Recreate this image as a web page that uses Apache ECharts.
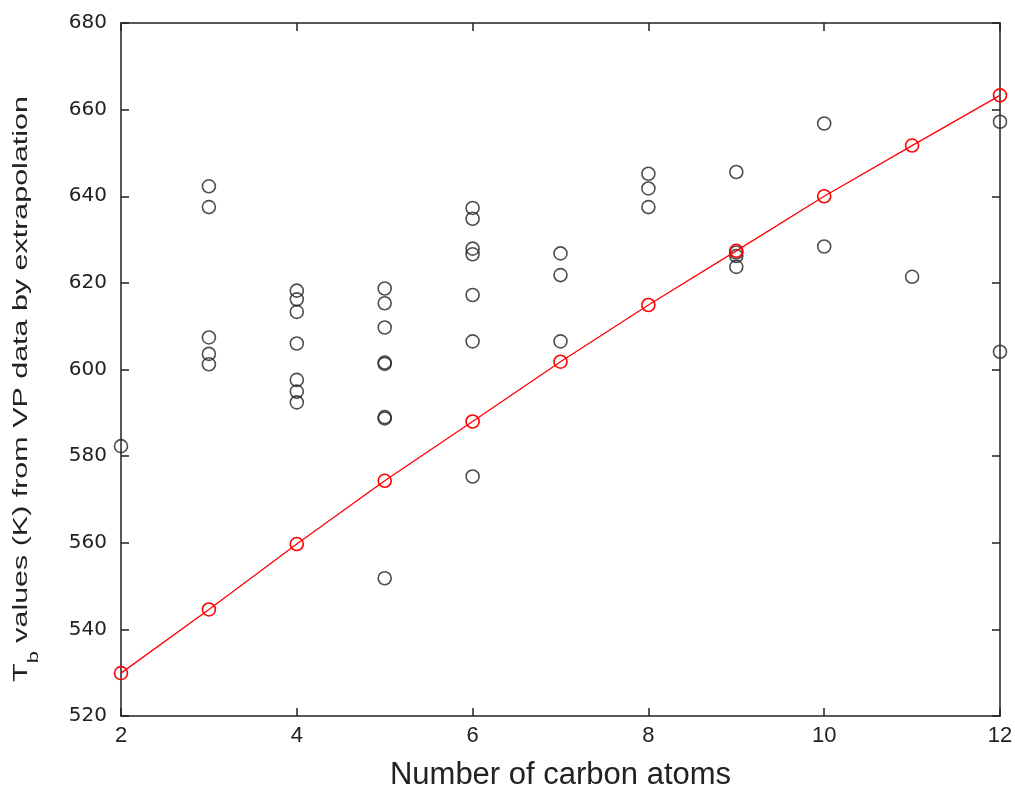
<!DOCTYPE html>
<html>
<head>
<meta charset="utf-8">
<script src="https://cdn.jsdelivr.net/npm/echarts@6/dist/echarts.min.js"></script>
<style>html,body{margin:0;padding:0;background:#fff;}#c{width:1015px;height:795px;}</style>
</head>
<body>
<div id="c"></div>
<script>
// Observed Tb values grouped by number of carbon atoms
const carbons = [2, 3, 4, 5, 6, 7, 8, 9, 10, 11, 12];
const obs2 = [582.3];
const obs3 = [642.3, 637.5, 607.4, 603.6, 601.2];
const obs4 = [618.2, 616.2, 613.3, 606.0, 597.6, 594.9, 592.4];
const obs5 = [618.7, 615.3, 609.7, 601.6, 601.3, 589.0, 588.7, 551.8];
const obs6 = [637.3, 634.8, 627.9, 626.6, 617.2, 606.5, 575.3];
const obs7 = [626.8, 621.8, 606.5];
const obs8 = [645.2, 641.8, 637.5];
const obs9 = [645.6, 627.0, 626.2, 623.7];
const obs10 = [656.8, 628.4];
const obs11 = [621.4];
const obs12 = [657.2, 604.1];
// Fitted (red) values
const fitValues = [529.9, 544.6, 559.7, 574.3, 588.0, 601.8, 614.9, 627.4, 640.0, 651.7, 663.3];
const xTicks = [2, 4, 6, 8, 10, 12];
const yTicks = [520, 540, 560, 580, 600, 620, 640, 660, 680];
const xTitle = 'Number of carbon atoms';
const yTitleMain = 'T';
const yTitleSub = 'b';
const yTitleRest = ' values (K) from VP data by extrapolation';

const groups = [obs2, obs3, obs4, obs5, obs6, obs7, obs8, obs9, obs10, obs11, obs12];
const scatterData = [];
groups.forEach((g, i) => g.forEach(v => scatterData.push([carbons[i], v])));
const fitData = carbons.map((c, i) => [c, fitValues[i]]);

const chart = echarts.init(document.getElementById('c'));
const font = 'Liberation Sans, Arial, sans-serif';
const axisLine = {show: true, onZero: false, lineStyle: {color: '#222', width: 1.5}};
const tick = {show: true, inside: true, length: 8, lineStyle: {color: '#222', width: 1.5}};
chart.setOption({
  animation: false,
  backgroundColor: '#fff',
  grid: {left: 121, right: 15, top: 23, bottom: 79, containLabel: false, outerBoundsMode: 'none'},
  graphic: [{
    type: 'text',
    x: 26, y: 389,
    rotation: Math.PI / 2,
    scaleX: 1.45,
    style: {
      text: '{a|' + yTitleMain + '}{b|' + yTitleSub + '}{a|' + yTitleRest + '}',
      align: 'center', verticalAlign: 'middle',
      fill: '#222',
      rich: {
        a: {fontSize: 21, fontFamily: font, fill: '#222', lineHeight: 30, verticalAlign: 'top'},
        b: {fontSize: 15, fontFamily: font, fill: '#222', lineHeight: 30, verticalAlign: 'bottom'}
      }
    }
  }],
  xAxis: [{
    type: 'value', min: xTicks[0], max: xTicks[xTicks.length - 1], interval: 2,
    position: 'bottom',
    axisLine: axisLine, axisTick: tick, splitLine: {show: false},
    axisLabel: {color: '#222', fontSize: 22, fontFamily: font, margin: 9},
    name: xTitle, nameLocation: 'middle', nameGap: 44,
    nameTextStyle: {color: '#222', fontSize: 31, fontFamily: font}
  }, {
    type: 'value', min: xTicks[0], max: xTicks[xTicks.length - 1], interval: 2,
    position: 'top',
    axisLine: axisLine, axisTick: tick, splitLine: {show: false}, axisLabel: {show: false}
  }],
  yAxis: [{
    type: 'value', min: yTicks[0], max: yTicks[yTicks.length - 1], interval: 20,
    position: 'left',
    axisLine: axisLine, axisTick: tick, splitLine: {show: false},
    axisLabel: {color: '#222', fontSize: 20, fontFamily: 'DejaVu Sans, sans-serif', margin: 14}
  }, {
    type: 'value', min: yTicks[0], max: yTicks[yTicks.length - 1], interval: 20,
    position: 'right',
    axisLine: axisLine, axisTick: tick, splitLine: {show: false}, axisLabel: {show: false}
  }],
  series: [{
    type: 'scatter', data: scatterData, symbol: 'circle', symbolSize: 13, clip: false,
    itemStyle: {color: 'rgba(0,0,0,0)', borderColor: '#222', borderWidth: 1.6}
  }, {
    type: 'line', data: fitData, symbol: 'circle', symbolSize: 13, showSymbol: true, clip: false,
    lineStyle: {color: '#ff0000', width: 1.3},
    itemStyle: {color: 'rgba(0,0,0,0)', borderColor: '#ff0000', borderWidth: 1.6}
  }]
});
</script>
</body>
</html>
